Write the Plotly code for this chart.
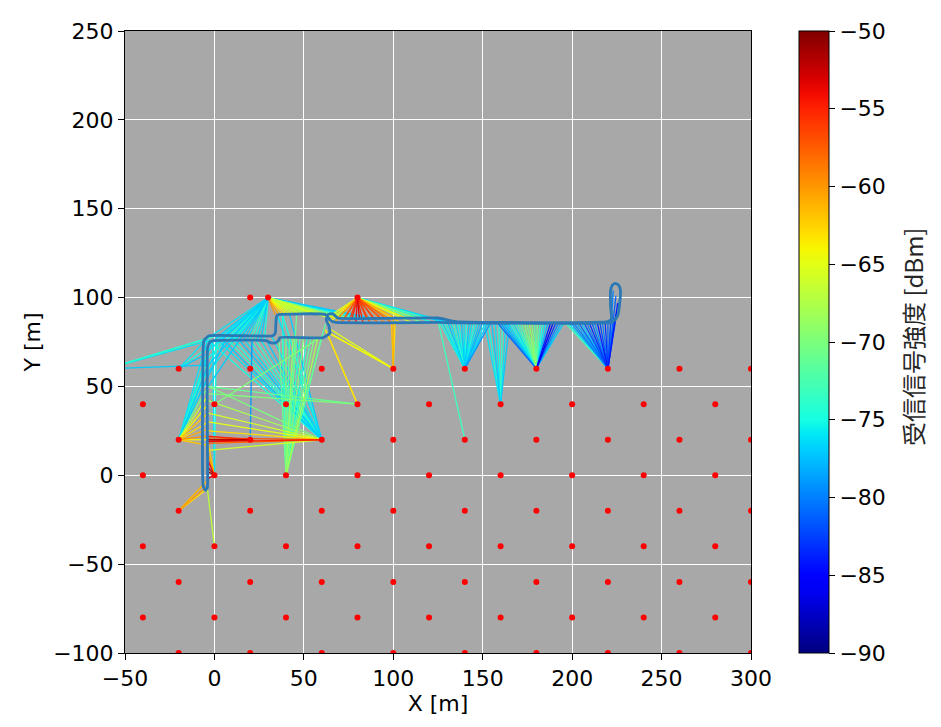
import numpy as np
import plotly.graph_objects as go

# ---------------- ticks ----------------
x_ticks = [-50, 0, 50, 100, 150, 200, 250, 300]
y_ticks = [-100, -50, 0, 50, 100, 150, 200, 250]
cbar_ticks = [-90, -85, -80, -75, -70, -65, -60, -55, -50]
rssi_min, rssi_max = -90, -50

# ---------------- anchors (red dots) ----------------
anchor_rows_a = [60, 20, -20, -60, -100]
anchor_cols_a = [-20, 20, 60, 100, 140, 180, 220, 260, 300]
anchor_rows_b = [40, 0, -40, -80]
anchor_cols_b = [-40, 0, 40, 80, 120, 160, 200, 240, 280]
anchor_top_x = [20, 30, 80]
anchor_top_y = [100, 100, 100]

# ---------------- walked trajectory ----------------
traj_x = [-4, -3.8, -3.8, -2.5, -0.5, 29, 31.5, 34, 36, 36.5, 61, 64.5, 64, 62.5, 63.5, 66, 69,
          125, 135, 220, 222, 221.5, 221.5, 222.5, 224, 226, 227, 226.5, 225.5, 224, 222,
          135, 125, 68, 65, 62, 36.5, 35, 34.5, 34, 32.5, -3, -5.8, -6.2, -6.3, -5, -4]
traj_y = [-7, -4, 72, 75, 75.8, 75.8, 74.5, 74.5, 76, 77.5, 77.5, 80, 84, 87.5, 90.5, 91, 88.5,
          88.5, 86.5, 86.5, 88, 95, 104, 107, 108, 107, 104, 96, 90, 87.5, 86,
          85.8, 86, 86, 87, 90.5, 90.5, 90, 88, 80, 78.5, 78.5, 76, 74, -6, -8.5, -7]

# ---------------- RSSI links: anchor -> trajectory point ----------------
a30_100_tx = [-4, -3, 0, 2, 4, 6, 8, 10, 12, 14, 16, 18, 20, 22, 24, 26, 28, -3.5, -3.5, -3.5, -3.5, -3.5,
              34, 36, 38, 40, 42, 44, 46, 48, 50, 52, 54, 56, 58, 60, 64, 68, 72, 76, 80, 84, 88]
a30_100_ty = [77, 74, 76, 76, 76, 76, 76, 76, 76, 76, 76, 76, 76, 76, 76, 76, 76, 70, 66, 62, 58, 50,
              90.5, 90.5, 90.5, 90.5, 90.5, 90.5, 90.5, 90.5, 90.5, 90.5, 90.5, 90.5, 90.5, 90.5,
              88.5, 88.5, 88.5, 88.5, 88.5, 88.5, 88.5]
a30_100_rssi = [-76, -77, -75, -76, -77, -75, -76, -74, -76, -75, -77, -76, -74, -75, -76, -77, -75,
                -76, -75, -77, -76, -77,
                -60, -61, -63, -64, -65, -66, -67, -66, -68, -67, -69, -66, -68, -67,
                -66, -69, -68, -72, -75, -76, -77]

a80_100_tx = [62, 63, 65, 67, 69, 71, 73, 75, 77, 79, 81, 83, 85, 87, 89, 91, 93, 95, 97, 99,
              101, 104, 107, 110, 113, 116, 119, 122, 125, 128, 131]
a80_100_ty = [88, 85, 88.5, 86, 88.5, 86, 88.5, 86, 88.5, 86, 88.5, 86, 88.5, 86, 88.5, 86, 88.5, 86,
              88.5, 86, 88.5, 86, 88.5, 86, 88.5, 86, 88.5, 86, 87, 86.5, 86]
a80_100_rssi = [-66, -64, -63, -61, -60, -58, -57, -56, -55, -54, -53, -55, -56, -57, -56, -58, -57,
                -59, -60, -58, -61, -63, -64, -66, -69, -71, -73, -75, -76, -77, -76]

a100_60_tx = [99, 100, 101, 64, 65, 66]
a100_60_ty = [86, 88.5, 86, 80, 82, 79]
a100_60_rssi = [-62, -61, -63, -64, -65, -66]

a80_40_tx = [62, 63, -4, -4]
a80_40_ty = [82, 80, 46, 50]
a80_40_rssi = [-64, -63, -70, -71]

a0_40_tx = [60]
a0_40_ty = [78]
a0_40_rssi = [-70]

a140_60_tx = [126, 127.5, 129, 130.5, 132, 133.5, 135, 136.5, 138, 139.5, 141, 142.5, 144, 145.5,
              147, 148.5, 150, 151.5, 153, 154.5]
a140_60_ty = [86, 86, 86, 86, 86, 86, 86, 86, 86, 86, 86, 86, 86, 86, 86, 86, 86, 86, 86, 86]
a140_60_rssi = [-75, -76, -75, -77, -76, -74, -76, -75, -77, -76, -75, -77, -76, -75, -76, -77,
                -78, -76, -77, -79]

a160_40_tx = [151, 153, 155, 157, 159, 161, 163, 165]
a160_40_ty = [86, 86, 86, 86, 86, 86, 86, 86]
a160_40_rssi = [-76, -75, -77, -76, -75, -74, -76, -77]

a140_20_tx = [125]
a140_20_ty = [87]
a140_20_rssi = [-73]

a180_60_tx = [158, 159.5, 161, 162.5, 164, 165.5, 167, 168.5, 170, 171.5, 173, 174.5, 176, 177.5,
              179, 180.5, 182, 183.5, 185, 186.5, 188, 189.5, 191, 192.5, 194, 195.5]
a180_60_ty = [86, 86, 86, 86, 86, 86, 86, 86, 86, 86, 86, 86, 86, 86, 86, 86, 86, 86, 86, 86, 86,
              86, 86, 86, 86, 86]
a180_60_rssi = [-81, -79, -78, -77, -76, -75, -76, -74, -73, -72, -70, -71, -69, -70, -72, -71,
                -73, -75, -76, -78, -84, -86, -83, -80, -78, -77]

a220_60_tx = [196, 197.5, 199, 200.5, 202, 203.5, 205, 206.5, 208, 209.5, 211, 212.5, 214, 215.5,
              217, 218.5, 220, 221.5, 223, 224, 225, 225.5, 224.5, 223]
a220_60_ty = [86, 86, 86, 86, 86, 86, 86, 86, 86, 86, 86, 86, 86, 86, 86, 86, 86, 86, 86,
              88, 92, 97, 101, 104]
a220_60_rssi = [-73, -76, -79, -80, -78, -81, -77, -82, -80, -83, -81, -79, -84, -82, -80, -83,
                -81, -82, -80, -83, -82, -84, -81, -80]

am20_20_tx = [-4, -3.5, -3.5, -3.5, -3.5, -1, 3, 6, -3.5, -3.5, -3.5, -3.5, -3.5, -4, -4, -4, -3.5]
am20_20_ty = [76, 70, 66, 62, 55, 76, 76, 76, 45, 40, 35, 30, 26, 22, 17, 20, 50]
am20_20_rssi = [-76, -75, -74, -77, -74, -76, -75, -77, -66, -64, -62, -63, -61, -60, -62, -64, -70]

a60_20_tx = [-4, -3.5, -4, -3.5, -3.5, -3.5, -3.5, -3.5, -3.5, -3.5, 2, 5, 8, 11, 14, 17, 20, 23,
             26, 29, 32, 35, 38, 42]
a60_20_ty = [19, 21, 18, 14, 25, 30, 35, 42, 50, 76, 76, 76, 76, 76, 76, 76, 76, 76, 76, 76,
             78.5, 90.5, 90.5, 90.5]
a60_20_rssi = [-55, -57, -58, -66, -63, -65, -66, -68, -70, -75, -76, -77, -74, -75, -77, -76,
               -75, -74, -76, -77, -76, -76, -75, -77]

a20_20_tx = [21, -4, -3.5, -4]
a20_20_ty = [76, 20, 19, 22]
a20_20_rssi = [-79, -52, -54, -55]

a40_0_tx = [36, 38, 40, 42, 44, 46, 48, 50, 52, 54, 56, 58, 60, 62, 38, 46]
a40_0_ty = [78, 78, 78, 78, 78, 78, 78, 78, 78, 78, 78, 78, 78, 85, 90.5, 90.5]
a40_0_rssi = [-71, -73, -70, -72, -69, -71, -73, -70, -74, -72, -70, -68, -71, -72, -75, -71]

a0_0_tx = [-3.5, -4, -3.5, -4, -3.5, -3.5, -1, 1]
a0_0_ty = [2, 5, 8, -2, 12, 18, 76, 76]
a0_0_rssi = [-51, -52, -54, -53, -60, -62, -76, -75]

am20_m20_tx = [-4, -5, -4.5, -4]
am20_m20_ty = [-6, -4, -8, -3]
am20_m20_rssi = [-60, -62, -63, -61]

a0_m40_tx = [-4]
a0_m40_ty = [-7]
a0_m40_rssi = [-67]

am20_60_tx = [-4, -3.5, -5]
am20_60_ty = [77, 72, 68]
am20_60_rssi = [-76, -75, -77]

am60_60_tx = [-4, -2, 0, -3.5]
am60_60_ty = [77, 76, 78, 62]
am60_60_rssi = [-75, -76, -74, -77]

links = [
    ((30, 100), a30_100_tx, a30_100_ty, a30_100_rssi),
    ((80, 100), a80_100_tx, a80_100_ty, a80_100_rssi),
    ((100, 60), a100_60_tx, a100_60_ty, a100_60_rssi),
    ((80, 40), a80_40_tx, a80_40_ty, a80_40_rssi),
    ((0, 40), a0_40_tx, a0_40_ty, a0_40_rssi),
    ((140, 60), a140_60_tx, a140_60_ty, a140_60_rssi),
    ((160, 40), a160_40_tx, a160_40_ty, a160_40_rssi),
    ((140, 20), a140_20_tx, a140_20_ty, a140_20_rssi),
    ((180, 60), a180_60_tx, a180_60_ty, a180_60_rssi),
    ((220, 60), a220_60_tx, a220_60_ty, a220_60_rssi),
    ((-20, 20), am20_20_tx, am20_20_ty, am20_20_rssi),
    ((60, 20), a60_20_tx, a60_20_ty, a60_20_rssi),
    ((20, 20), a20_20_tx, a20_20_ty, a20_20_rssi),
    ((40, 0), a40_0_tx, a40_0_ty, a40_0_rssi),
    ((0, 0), a0_0_tx, a0_0_ty, a0_0_rssi),
    ((-20, -20), am20_m20_tx, am20_m20_ty, am20_m20_rssi),
    ((0, -40), a0_m40_tx, a0_m40_ty, a0_m40_rssi),
    ((-20, 60), am20_60_tx, am20_60_ty, am20_60_rssi),
    ((-60, 60), am60_60_tx, am60_60_ty, am60_60_rssi),
]


# ---------------- matplotlib "jet" colormap ----------------
def jet(t):
    r = np.interp(t, [0, 0.35, 0.66, 0.89, 1], [0, 0, 1, 1, 0.5])
    g = np.interp(t, [0, 0.125, 0.375, 0.64, 0.91, 1], [0, 0, 1, 1, 0, 0])
    b = np.interp(t, [0, 0.11, 0.34, 0.65, 1], [0.5, 1, 1, 0, 0])
    return "rgb(%d,%d,%d)" % (round(r * 255), round(g * 255), round(b * 255))


jet_scale = [[s, jet(s)] for s in np.linspace(0, 1, 41)]

fig = go.Figure()

# group segments by RSSI value so each color is one trace
by_rssi = {}
for (ax, ay), txs, tys, rs in links:
    for tx, ty, r in zip(txs, tys, rs):
        d = by_rssi.setdefault(r, ([], []))
        d[0].extend([ax, tx, None])
        d[1].extend([ay, ty, None])

for r in sorted(by_rssi, key=lambda v: abs(v + 75)):
    xs, ys = by_rssi[r]
    t = (r - rssi_min) / (rssi_max - rssi_min)
    fig.add_trace(go.Scatter(x=xs, y=ys, mode="lines",
                             line=dict(color=jet(t), width=1.3),
                             hoverinfo="skip", showlegend=False))

# trajectory
fig.add_trace(go.Scatter(x=traj_x, y=traj_y, mode="lines",
                         line=dict(color="#2a78b5", width=2.8, shape="spline", smoothing=0.4),
                         hoverinfo="skip", showlegend=False))

# anchors
anc_x, anc_y = [], []
for yy in anchor_rows_a:
    for xx in anchor_cols_a:
        anc_x.append(xx)
        anc_y.append(yy)
for yy in anchor_rows_b:
    for xx in anchor_cols_b:
        anc_x.append(xx)
        anc_y.append(yy)
anc_x += anchor_top_x
anc_y += anchor_top_y
fig.add_trace(go.Scatter(x=anc_x, y=anc_y, mode="markers",
                         marker=dict(color="red", size=6, line=dict(width=0)),
                         hoverinfo="skip", showlegend=False))

FS = 22
# colorbar carrier (point outside visible range)
fig.add_trace(go.Scatter(
    x=[-1000], y=[-1000], mode="markers",
    marker=dict(size=1, color=[-70], colorscale=jet_scale, cmin=rssi_min, cmax=rssi_max,
                showscale=True,
                colorbar=dict(
                    x=(799 - 125) / 626, xanchor="left", xpad=0,
                    y=0.5, yanchor="middle", ypad=0, len=1, lenmode="fraction",
                    thickness=30, outlinewidth=1, outlinecolor="black",
                    tickvals=cbar_ticks, ticks="outside", ticklen=6, tickcolor="black",
                    tickfont=dict(size=FS, family="DejaVu Sans", color="black"),
                )),
    hoverinfo="skip", showlegend=False))

# colorbar title (vertical, right of the tick labels)
fig.add_annotation(text="受信信号強度 [dBm]", textangle=-90, showarrow=False,
                   xref="paper", yref="paper", x=(912 - 125) / 626, y=(653 - 337) / 622,
                   xanchor="center", yanchor="middle",
                   font=dict(size=24, family="Noto Sans CJK JP", color="#262626"))

axis_common = dict(showgrid=True, gridcolor="white", gridwidth=1, zeroline=False,
                   showline=True, linecolor="black", linewidth=1, mirror=True,
                   ticks="outside", ticklen=6, tickcolor="black",
                   tickfont=dict(size=FS, family="DejaVu Sans", color="black"))

fig.update_xaxes(range=[-50, 300], tickvals=x_ticks,
                 title=dict(text="X [m]", font=dict(size=FS), standoff=2), **axis_common)
fig.update_yaxes(range=[-100, 250], tickvals=y_ticks,
                 title=dict(text="Y [m]", font=dict(size=FS), standoff=6), **axis_common)

fig.update_layout(width=941, height=727,
                  margin=dict(l=117, r=198, t=23, b=82, autoexpand=False),
                  plot_bgcolor="#a8a8a8", paper_bgcolor="white",
                  font=dict(family="DejaVu Sans", size=FS, color="black"),
                  showlegend=False)

fig.write_html("out.html")
